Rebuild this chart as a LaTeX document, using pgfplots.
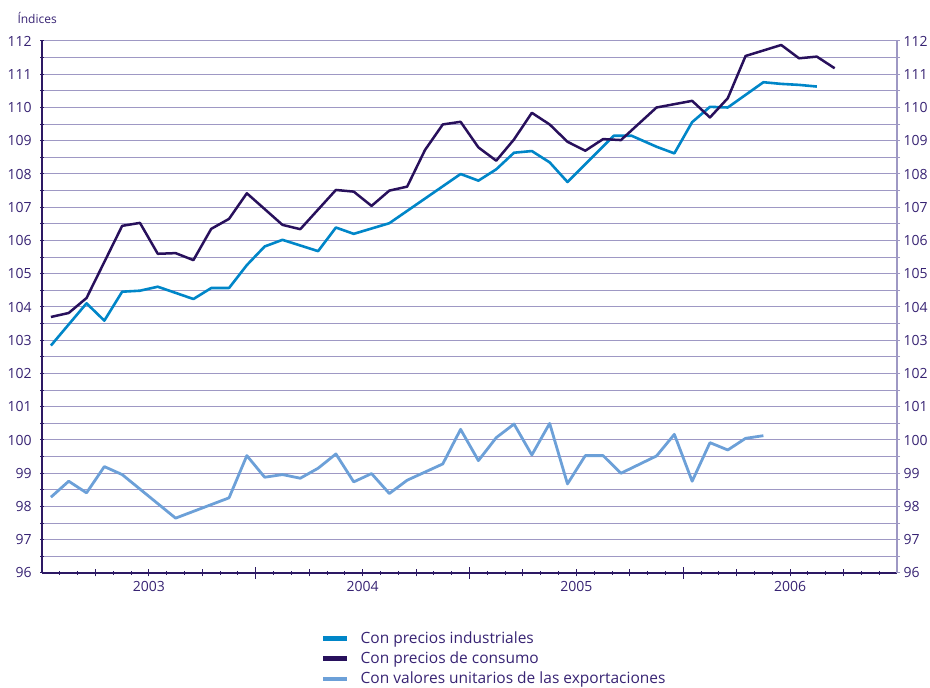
\documentclass[border=0pt]{standalone}
\usepackage{fontspec}
\setmainfont{Open Sans}
\usepackage{pgfplots}
\pgfplotsset{compat=1.18}

\definecolor{indus}{RGB}{0,134,200}
\definecolor{consu}{RGB}{40,16,92}
\definecolor{expor}{RGB}{108,160,216}
\definecolor{gridc}{RGB}{158,152,196}
\definecolor{axisc}{RGB}{45,25,100}
\definecolor{txtc}{RGB}{55,35,115}

\pgfplotsset{
  base/.style={
    at={(0,0)}, anchor=south west, scale only axis,
    width=855pt, height=532pt,
    xmin=0, xmax=48, ymin=96, ymax=112,
    tick align=inside,
    /pgf/number format/assume math mode=true,
    tick label style={font=\fontsize{14}{16}\selectfont, text=txtc},
  },
}

\begin{document}
\begin{tikzpicture}[x=1pt,y=1pt]
\useasboundingbox (-42,-115) rectangle (888,573);

% main axis: grid, data, left scale, year labels
\begin{axis}[base,
  axis x line=bottom, axis y line=left,
  axis line style={-, draw=axisc, line width=1.3pt},
  xtick={6,18,30,42}, xticklabels={2003,2004,2005,2006},
  xticklabel style={yshift=-3pt},
  minor xtick={1,...,47},
  ytick={96,...,112}, minor ytick={96.5,97.5,...,111.5},
  major tick length=3.5pt, minor tick length=3.5pt,
  tick style={draw=axisc, line width=1pt},
  yticklabel style={xshift=-5pt},
  ymajorgrids, yminorgrids,
  major grid style={draw=gridc, line width=1pt},
  minor grid style={draw=gridc, line width=1pt},
  legend style={draw=none, fill=none, at={(axis description cs:0.3228,-0.103)},
    anchor=north west, font=\fontsize{15.5}{18}\selectfont, text=txtc,
    row sep=2.8pt, /tikz/every odd column/.append style={column sep=9pt}},
  legend cell align=left,
  legend image code/.code={\draw[#1, line width=4.5pt] (0pt,0pt) -- (24pt,0pt);},
]
\addplot[indus, line width=2.6pt, line join=round] coordinates {
  (0.5,102.84) (2.5,104.11) (3.5,103.59) (4.5,104.46) (5.5,104.49)
  (6.5,104.61) (8.5,104.24) (9.5,104.57) (10.5,104.57) (11.5,105.26)
  (12.5,105.82) (13.5,106.02) (15.5,105.68) (16.5,106.39) (17.5,106.20)
  (19.5,106.52) (23.5,108.00) (24.5,107.80) (25.5,108.14) (26.5,108.64)
  (27.5,108.69) (28.5,108.35) (29.5,107.76) (32.1,109.15) (33.1,109.15)
  (34.5,108.82) (35.5,108.62) (36.5,109.56) (37.5,110.02) (38.5,110.00)
  (40.5,110.76) (41.5,110.71) (42.5,110.68) (43.5,110.63)
};
\addlegendentry{Con precios industriales}
\addplot[consu, line width=2.5pt, line join=round] coordinates {
  (0.5,103.70) (1.5,103.82) (2.5,104.27) (4.5,106.44) (5.5,106.53)
  (6.5,105.60) (7.5,105.62) (8.5,105.41) (9.5,106.35) (10.5,106.65)
  (11.5,107.42) (13.5,106.47) (14.5,106.34) (16.5,107.52) (17.5,107.47)
  (18.5,107.04) (19.5,107.50) (20.5,107.62) (21.5,108.72) (22.5,109.49)
  (23.5,109.57) (24.5,108.80) (25.5,108.40) (26.5,109.04) (27.5,109.84)
  (28.5,109.49) (29.5,108.97) (30.5,108.70) (31.5,109.05) (32.5,109.02)
  (34.5,110.00) (36.5,110.20) (37.5,109.70) (38.5,110.28) (39.5,111.55)
  (41.5,111.88) (42.5,111.48) (43.5,111.53) (44.5,111.18)
};
\addlegendentry{Con precios de consumo}
\addplot[expor, line width=2.8pt, line join=round] coordinates {
  (0.5,98.28) (1.5,98.76) (2.5,98.41) (3.5,99.20) (4.5,98.96)
  (7.5,97.65) (10.5,98.26) (11.5,99.53) (12.5,98.88) (13.5,98.96)
  (14.5,98.85) (15.5,99.15) (16.5,99.58) (17.5,98.74) (18.5,98.99)
  (19.5,98.39) (20.5,98.79) (22.5,99.28) (23.5,100.32) (24.5,99.38)
  (25.5,100.07) (26.5,100.48) (27.5,99.55) (28.5,100.50) (29.5,98.68)
  (30.5,99.53) (31.5,99.53) (32.5,99.00) (34.5,99.52) (35.5,100.17)
  (36.5,98.76) (37.5,99.92) (38.5,99.70) (39.5,100.05) (40.5,100.13)
};
\addlegendentry{Con valores unitarios de las exportaciones}
\end{axis}

% quarter and year tick marks
\begin{axis}[base,
  hide y axis, axis x line=bottom,
  axis line style={-, draw=axisc, line width=1.3pt},
  xtick={3,6,...,45}, xticklabels={},
  major tick length=7pt,
  tick style={draw=axisc, line width=1pt},
  extra x ticks={12,24,36}, extra x tick labels={},
  extra x tick style={major tick length=12pt},
]
\end{axis}

% right scale
\begin{axis}[base,
  hide x axis, axis y line=right,
  axis line style={-, draw=gridc, line width=1.3pt},
  ytick={96,...,112}, minor ytick={96.5,97.5,...,111.5},
  tick align=outside,
  major tick length=3pt, minor tick length=3pt,
  tick style={draw=gridc, line width=1pt},
]
\end{axis}

\node[anchor=west, font=\fontsize{12}{14}\selectfont, text=txtc] at (-28,555) {Índices};
\end{tikzpicture}
\end{document}
